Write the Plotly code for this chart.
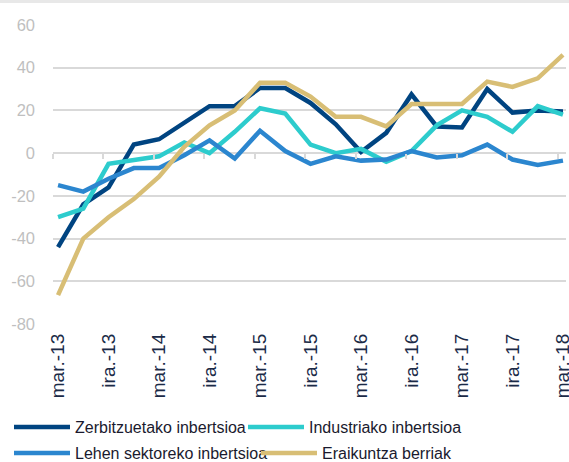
import plotly.graph_objects as go

quarters = ["mar.-13", "eka.-13", "ira.-13", "abe.-13",
            "mar.-14", "eka.-14", "ira.-14", "abe.-14",
            "mar.-15", "eka.-15", "ira.-15", "abe.-15",
            "mar.-16", "eka.-16", "ira.-16", "abe.-16",
            "mar.-17", "eka.-17", "ira.-17", "abe.-17",
            "mar.-18"]
tick_labels = ["mar.-13", "ira.-13", "mar.-14", "ira.-14", "mar.-15", "ira.-15",
               "mar.-16", "ira.-16", "mar.-17", "ira.-17", "mar.-18"]
y_ticks = [-80, -60, -40, -20, 0, 20, 40, 60]
y_tick_labels = ["-80", "-60", "-40", "-20", "0", "20", "40", "60"]

zerbitzuak = [-44, -24, -16, 4, 6.5, 14, 22, 22, 30.5, 30.5, 23.5, 13.5,
              0.5, 9.5, 27.5, 12.5, 12, 30, 19, 20, 19.5]
industria = [-30, -26, -5, -3, -1.5, 5, 0, 10, 21, 18.5, 4, 0,
             2, -4, 1, 13, 20, 17, 10, 22, 18]
lehen = [-15, -18, -12, -7, -7, -1, 6, -2.5, 10.5, 1, -5, -1.5,
         -3.5, -3, 1, -2, -1, 4, -3, -5.5, -3.5]
eraikuntza = [-66.5, -40, -30, -21.5, -11, 3, 13, 20, 33, 33, 26.5, 17,
              17, 12.5, 23, 23, 23, 33.5, 31, 35, 46]

names = ["Zerbitzuetako inbertsioa", "Industriako inbertsioa",
         "Lehen sektoreko inbertsioa", "Eraikuntza berriak"]
colors = ["#004481", "#2dcccd", "#2b86cf", "#d8be75"]
series = [zerbitzuak, industria, lehen, eraikuntza]
legends = ["legend", "legend", "legend2", "legend2"]

idx = list(range(len(quarters)))
x_range = [-0.2, 20.12]

fig = go.Figure()
for name, col, vals, lg in zip(names, colors, series, legends):
    fig.add_trace(go.Scatter(x=idx, y=vals, mode="lines", name=name,
                             line=dict(color=col, width=4.5),
                             legend=lg, hovertext=quarters))

# invisible trace so the zero-crossing tick axis is drawn
fig.add_trace(go.Scatter(x=[], y=[], xaxis="x2", showlegend=False, hoverinfo="skip"))

font_family = "Liberation Sans, Arial, sans-serif"

legend_common = dict(orientation="h", xanchor="left", yanchor="middle",
                     entrywidthmode="pixels", itemwidth=56,
                     font=dict(size=16, color="#1a1a2e"),
                     bgcolor="rgba(0,0,0,0)")

fig.update_layout(
    width=569, height=462,
    margin=dict(l=53, r=3, t=25, b=138, autoexpand=False),
    paper_bgcolor="white", plot_bgcolor="white",
    font=dict(family=font_family),
    showlegend=True,
    xaxis=dict(range=x_range, tickvals=idx[::2], ticktext=tick_labels,
               tickangle=-90, showgrid=False, zeroline=False, showline=False,
               ticks="", tickfont=dict(size=19, color="#1b2a47"),
               ticklabelstandoff=5, ticklabeloverflow="allow"),
    xaxis2=dict(overlaying="x", range=x_range, anchor="free", position=80/140,
                tickvals=[i - 0.2 for i in idx[::2]], ticks="outside", ticklen=5,
                tickcolor="#d9d9d9", tickwidth=1.5, showticklabels=False,
                showgrid=False, zeroline=False, showline=False),
    yaxis=dict(range=[-80, 60], tickvals=y_ticks, ticktext=y_tick_labels,
               showgrid=True, gridcolor="#d9d9d9", gridwidth=1.5, zeroline=False,
               showline=False, ticks="", tickfont=dict(size=16.5, color="#bfbfbf"),
               ticklabelstandoff=17),
    legend=dict(x=(9 - 53) / 513, y=(324 - 427) / 299, entrywidth=163,
                **legend_common),
    legend2=dict(x=(9 - 53) / 513, y=(324 - 453) / 299, entrywidth=176,
                 **legend_common),
    shapes=[dict(type="rect", xref="paper", yref="paper", x0=-0.2, x1=1.1,
                 y0=(324 - 3) / 299, y1=1.2,
                 fillcolor="#e8e8e8", line=dict(width=0), layer="below")],
)

fig.write_html("out.html", config={"displayModeBar": False},
               post_script="document.body.style.margin='0';")
